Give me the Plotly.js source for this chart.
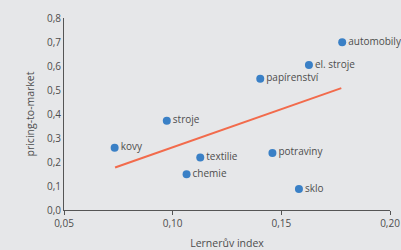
<!DOCTYPE html>
<html><head><meta charset="utf-8">
<script src="https://cdn.plot.ly/plotly-3.0.1.min.js"></script>
<style>html,body{margin:0;padding:0;background:#e6e7e9;}#c{width:401px;height:250px;}</style>
</head><body><div id="c"></div>
<script>
var labels = ["automobily","el. stroje","papírenství","stroje","kovy","textilie","potraviny","chemie","sklo"];
var lerner = [0.178,0.1627,0.1403,0.0973,0.0733,0.1127,0.1459,0.1064,0.1581];
var ptm = [0.699,0.604,0.547,0.372,0.259,0.219,0.238,0.149,0.087];
var trendX = [0.0735,0.1776];
var trendY = [0.177,0.508];
var xTicks = [0.05,0.10,0.15,0.20];
var xTickText = ["0,05","0,10","0,15","0,20"];
var yTicks = [0,0.1,0.2,0.3,0.4,0.5,0.6,0.7,0.8];
var yTickText = ["0,0","0,1","0,2","0,3","0,4","0,5","0,6","0,7","0,8"];
var font = {family:"Open Sans, sans-serif", size:10, color:"#4d4d4d"};
var labFont = {family:"Open Sans, sans-serif", size:10, color:"#4d4d4d"};
var data = [
 {x:trendX, y:trendY, mode:"lines", line:{color:"#f26b4c", width:2}, hoverinfo:"skip", cliponaxis:false},
 {x:lerner, y:ptm, mode:"markers+text", text:labels, textposition:"middle right",
  textfont:labFont, cliponaxis:false,
  marker:{color:"#3a80c6", size:8}}
];
var layout = {
 width:401, height:250, showlegend:false,
 paper_bgcolor:"#e6e7e9", plot_bgcolor:"#e6e7e9",
 margin:{l:64, r:11, t:18, b:40},
 font:font,
 xaxis:{range:[0.05,0.20], tickvals:xTicks, ticktext:xTickText, showgrid:false, zeroline:false,
   showline:true, linecolor:"#555", linewidth:1, ticks:"outside", ticklen:4, tickcolor:"#555",
   title:{text:"Lernerův index", font:{family:"Open Sans, sans-serif", size:10.5, color:"#4d4d4d"}, standoff:17}, tickfont:font},
 yaxis:{range:[0,0.8], tickvals:yTicks, ticktext:yTickText, showgrid:false, zeroline:false,
   showline:true, linecolor:"#555", linewidth:1, ticks:"",
   title:{text:"pricing-to-market", font:{family:"Open Sans, sans-serif", size:10.5, color:"#4d4d4d"}, standoff:10}, tickfont:font}
};
Plotly.newPlot("c", data, layout, {staticPlot:true, displayModeBar:false});
</script></body></html>
